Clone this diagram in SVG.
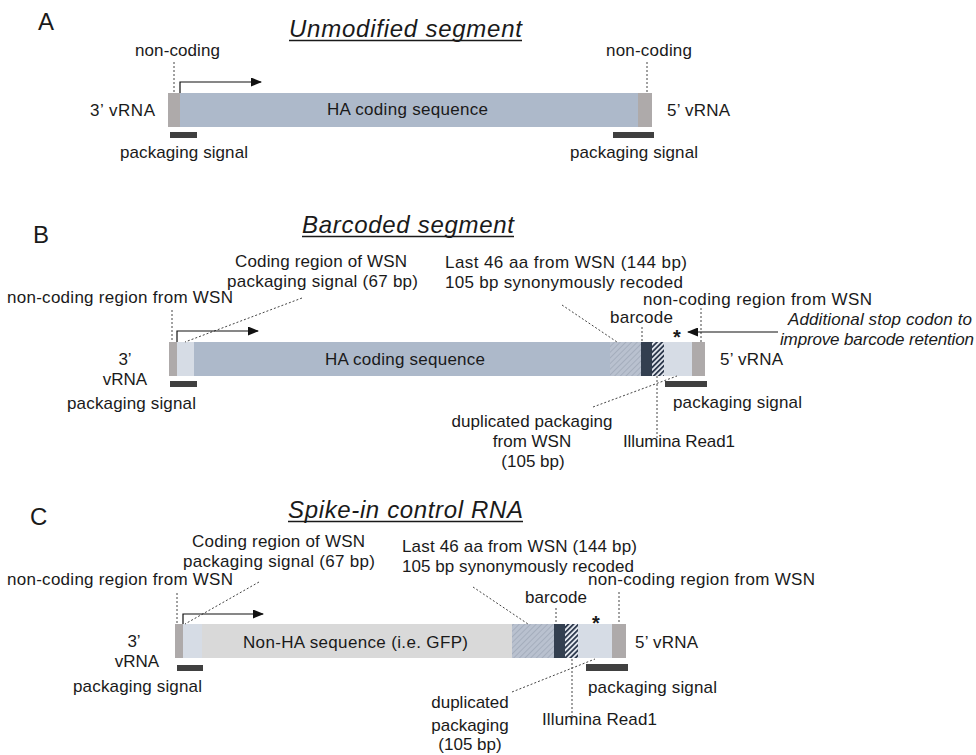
<svg xmlns="http://www.w3.org/2000/svg" width="976" height="755" viewBox="0 0 976 755">
<style>
  text { font-family: "Liberation Sans", Arial, sans-serif; fill: #1a1a1a; }
  .lbl { font-size: 17px; }
  .ital { font-size: 17px; font-style: italic; }
  .panel { font-size: 24px; }
  .title { font-size: 24px; font-style: italic; }
  .star { font-size: 20px; font-weight: bold; }
  .ul { stroke: #1a1a1a; stroke-width: 1.3; }
  .dot { stroke: #444; stroke-width: 1; stroke-dasharray: 2 2; fill: none; }
  .arr { stroke: #111; stroke-width: 1.2; fill: none; marker-end: url(#head); }
  .ha { fill: #adb9ca; }
  .nc { fill: #aeaaaa; }
  .lb { fill: #d6dce5; }
  .nv { fill: #333f50; }
  .lg { fill: #d9d9d9; }
  .pk { fill: #404040; }
  .hg { fill: url(#hatchGray); }
  .hn { fill: url(#hatchNavy); }
</style>
<defs>
  <marker id="head" markerUnits="userSpaceOnUse" markerWidth="11" markerHeight="9" refX="10" refY="4.5" orient="auto">
    <path d="M0,0 L11,4.5 L0,9 z" fill="#111"/>
  </marker>
  <pattern id="hatchGray" width="4" height="4" patternUnits="userSpaceOnUse" patternTransform="rotate(45)">
    <rect width="4" height="4" fill="#b9c1cf"/>
    <line x1="0" y1="0" x2="0" y2="4" stroke="#98a1b2" stroke-width="1.2"/>
  </pattern>
  <pattern id="hatchNavy" width="3.6" height="3.6" patternUnits="userSpaceOnUse" patternTransform="rotate(45)">
    <rect width="3.6" height="3.6" fill="#e6eaf1"/>
    <line x1="0.9" y1="0" x2="0.9" y2="3.6" stroke="#2f3b4f" stroke-width="1.9"/>
  </pattern>
</defs>
<rect width="976" height="755" fill="#ffffff"/>

<!-- ================= Panel A ================= -->
<g id="panelA-label"><text class="panel" x="38" y="30">A</text></g>
<g id="panelA-title">
  <text class="title" x="289" y="37" textLength="233">Unmodified segment</text>
  <line class="ul" x1="289" y1="40.5" x2="522" y2="40.5"/>
</g>
<g id="A-segment">
  <rect class="nc" x="168" y="93" width="12" height="34"/>
  <rect class="ha" x="180" y="93" width="458" height="34"/>
  <rect class="nc" x="638" y="93" width="14" height="34"/>
  <text class="lbl" x="327" y="115" textLength="161">HA coding sequence</text>
</g>
<g id="A-3prime"><text class="lbl" x="90" y="116" textLength="65">3’ vRNA</text></g>
<g id="A-5prime"><text class="lbl" x="667" y="116" textLength="63">5’ vRNA</text></g>
<g id="A-noncoding-left"><text class="lbl" x="135" y="56" textLength="85">non-coding</text></g>
<g id="A-noncoding-right"><text class="lbl" x="606" y="56" textLength="86">non-coding</text></g>
<g id="A-packaging-left">
  <rect class="pk" x="170" y="132" width="27" height="6"/>
  <text class="lbl" x="120" y="158" textLength="128">packaging signal</text>
</g>
<g id="A-packaging-right">
  <rect class="pk" x="613" y="132" width="41" height="6"/>
  <text class="lbl" x="570" y="158" textLength="128">packaging signal</text>
</g>

<!-- ================= Panel B ================= -->
<g id="panelB-label"><text class="panel" x="33" y="243">B</text></g>
<g id="panelB-title">
  <text class="title" x="302" y="233" textLength="212">Barcoded segment</text>
  <line class="ul" x1="302" y1="236.5" x2="514" y2="236.5"/>
</g>
<g id="B-segment">
  <rect class="nc" x="169" y="342" width="8" height="34"/>
  <rect class="lb" x="177" y="342" width="17" height="34"/>
  <rect class="ha" x="194" y="342" width="416" height="34"/>
  <rect class="hg" x="610" y="342" width="31" height="34"/>
  <rect class="nv" x="641" y="342" width="11" height="34"/>
  <rect class="hn" x="652" y="342" width="12" height="34"/>
  <rect class="lb" x="664" y="342" width="28" height="34"/>
  <rect class="nc" x="692" y="342" width="13" height="34"/>
  <text class="lbl" x="325" y="365" textLength="160">HA coding sequence</text>
</g>
<g id="B-3prime">
  <text class="lbl" x="125" y="365" text-anchor="middle">3’</text>
  <text class="lbl" x="125" y="385" text-anchor="middle">vRNA</text>
</g>
<g id="B-packaging-left">
  <rect class="pk" x="170" y="381" width="27" height="6"/>
  <text class="lbl" x="67" y="409" textLength="129">packaging signal</text>
</g>
<g id="B-noncoding-left"><text class="lbl" x="7" y="303" textLength="226">non-coding region from WSN</text></g>
<g id="B-coding-region">
  <text class="lbl" x="235" y="267" textLength="172">Coding region of WSN</text>
  <text class="lbl" x="227" y="287" textLength="191">packaging signal (67 bp)</text>
</g>
<g id="B-last46">
  <text class="lbl" x="445" y="268" textLength="242">Last 46 aa from WSN (144 bp)</text>
  <text class="lbl" x="445" y="288" textLength="238">105 bp synonymously  recoded</text>
</g>
<g id="B-noncoding-right"><text class="lbl" x="643" y="305" textLength="229">non-coding region from WSN</text></g>
<g id="B-barcode"><text class="lbl" x="610" y="323" textLength="63">barcode</text></g>
<g id="B-stop"><text class="star" x="677" y="344" text-anchor="middle">*</text></g>
<g id="B-stop-note">
  <text class="ital" x="788" y="325" textLength="184">Additional stop codon to</text>
  <text class="ital" x="780" y="345" textLength="194">improve barcode retention</text>
</g>
<g id="B-5prime"><text class="lbl" x="720" y="365" textLength="63">5’ vRNA</text></g>
<g id="B-packaging-right">
  <rect class="pk" x="665" y="381" width="42" height="6"/>
  <text class="lbl" x="673" y="408" textLength="129">packaging signal</text>
</g>
<g id="B-duplicated">
  <text class="lbl" x="532" y="427" text-anchor="middle" textLength="161">duplicated packaging</text>
  <text class="lbl" x="532" y="447" text-anchor="middle">from WSN</text>
  <text class="lbl" x="533" y="467" text-anchor="middle">(105 bp)</text>
</g>
<g id="B-illumina"><text class="lbl" x="623" y="447" textLength="112">Illumina  Read1</text></g>

<!-- ================= Panel C ================= -->
<g id="panelC-label"><text class="panel" x="30" y="525">C</text></g>
<g id="panelC-title">
  <text class="title" x="288" y="518" textLength="235">Spike-in control RNA</text>
  <line class="ul" x1="288" y1="521.5" x2="523" y2="521.5"/>
</g>
<g id="C-segment">
  <rect class="nc" x="175" y="624" width="8" height="34"/>
  <rect class="lb" x="183" y="624" width="19" height="34"/>
  <rect class="lg" x="202" y="624" width="310" height="34"/>
  <rect class="hg" x="512" y="624" width="42" height="34"/>
  <rect class="nv" x="554" y="624" width="11" height="34"/>
  <rect class="hn" x="565" y="624" width="13" height="34"/>
  <rect class="lb" x="578" y="624" width="34" height="34"/>
  <rect class="nc" x="612" y="624" width="14" height="34"/>
  <text class="lbl" x="243" y="648" textLength="225">Non-HA sequence (i.e. GFP)</text>
</g>
<g id="C-3prime">
  <text class="lbl" x="134" y="647" text-anchor="middle">3’</text>
  <text class="lbl" x="137" y="667" text-anchor="middle">vRNA</text>
</g>
<g id="C-packaging-left">
  <rect class="pk" x="177" y="665" width="26" height="6"/>
  <text class="lbl" x="73" y="692" textLength="129">packaging signal</text>
</g>
<g id="C-noncoding-left"><text class="lbl" x="7" y="585" textLength="226">non-coding region from WSN</text></g>
<g id="C-coding-region">
  <text class="lbl" x="192" y="547" textLength="173">Coding region of WSN</text>
  <text class="lbl" x="183" y="567" textLength="192">packaging signal (67 bp)</text>
</g>
<g id="C-last46">
  <text class="lbl" x="402" y="552" textLength="235">Last 46 aa from WSN (144 bp)</text>
  <text class="lbl" x="402" y="572" textLength="232">105 bp synonymously  recoded</text>
</g>
<g id="C-noncoding-right"><text class="lbl" x="588" y="585" textLength="227">non-coding region from WSN</text></g>
<g id="C-barcode"><text class="lbl" x="525" y="603" textLength="62">barcode</text></g>
<g id="C-stop"><text class="star" x="596" y="630" text-anchor="middle">*</text></g>
<g id="C-5prime"><text class="lbl" x="635" y="648" textLength="63">5’ vRNA</text></g>
<g id="C-packaging-right">
  <rect class="pk" x="586" y="664" width="42" height="7"/>
  <text class="lbl" x="588" y="693" textLength="129">packaging signal</text>
</g>
<g id="C-duplicated">
  <text class="lbl" x="470" y="708" text-anchor="middle">duplicated</text>
  <text class="lbl" x="470" y="731" text-anchor="middle">packaging</text>
  <text class="lbl" x="470" y="750" text-anchor="middle">(105 bp)</text>
</g>
<g id="C-illumina"><text class="lbl" x="542" y="725" textLength="115">Illumina  Read1</text></g>

<!-- ================= Connectors ================= -->
<g id="connectors">
  <!-- A -->
  <line class="dot" x1="174" y1="62" x2="174" y2="93"/>
  <line class="dot" x1="647" y1="62" x2="647" y2="93"/>
  <path class="arr" d="M180,93 V82 H261"/>
  <!-- B -->
  <line class="dot" x1="172" y1="310" x2="172" y2="342"/>
  <line class="dot" x1="302" y1="298" x2="185" y2="342"/>
  <path class="arr" d="M177,342 V331 H258"/>
  <line class="dot" x1="562" y1="305" x2="617" y2="342"/>
  <line class="dot" x1="642" y1="327" x2="642" y2="342"/>
  <line class="dot" x1="701" y1="308" x2="701" y2="342"/>
  <line class="dot" x1="593" y1="407" x2="677" y2="376"/>
  <line class="dot" x1="657" y1="376" x2="657" y2="440"/>
  <line class="arr" x1="778" y1="332" x2="688" y2="332"/>
  <!-- C -->
  <line class="dot" x1="177" y1="593" x2="177" y2="624"/>
  <line class="dot" x1="259" y1="582" x2="185" y2="624"/>
  <path class="arr" d="M183,624 V614 H263"/>
  <line class="dot" x1="473" y1="587" x2="528" y2="624"/>
  <line class="dot" x1="556" y1="608" x2="556" y2="624"/>
  <line class="dot" x1="619" y1="592" x2="619" y2="624"/>
  <line class="dot" x1="512" y1="692" x2="595" y2="659"/>
  <line class="dot" x1="572" y1="659" x2="572" y2="717"/>
</g>
</svg>
